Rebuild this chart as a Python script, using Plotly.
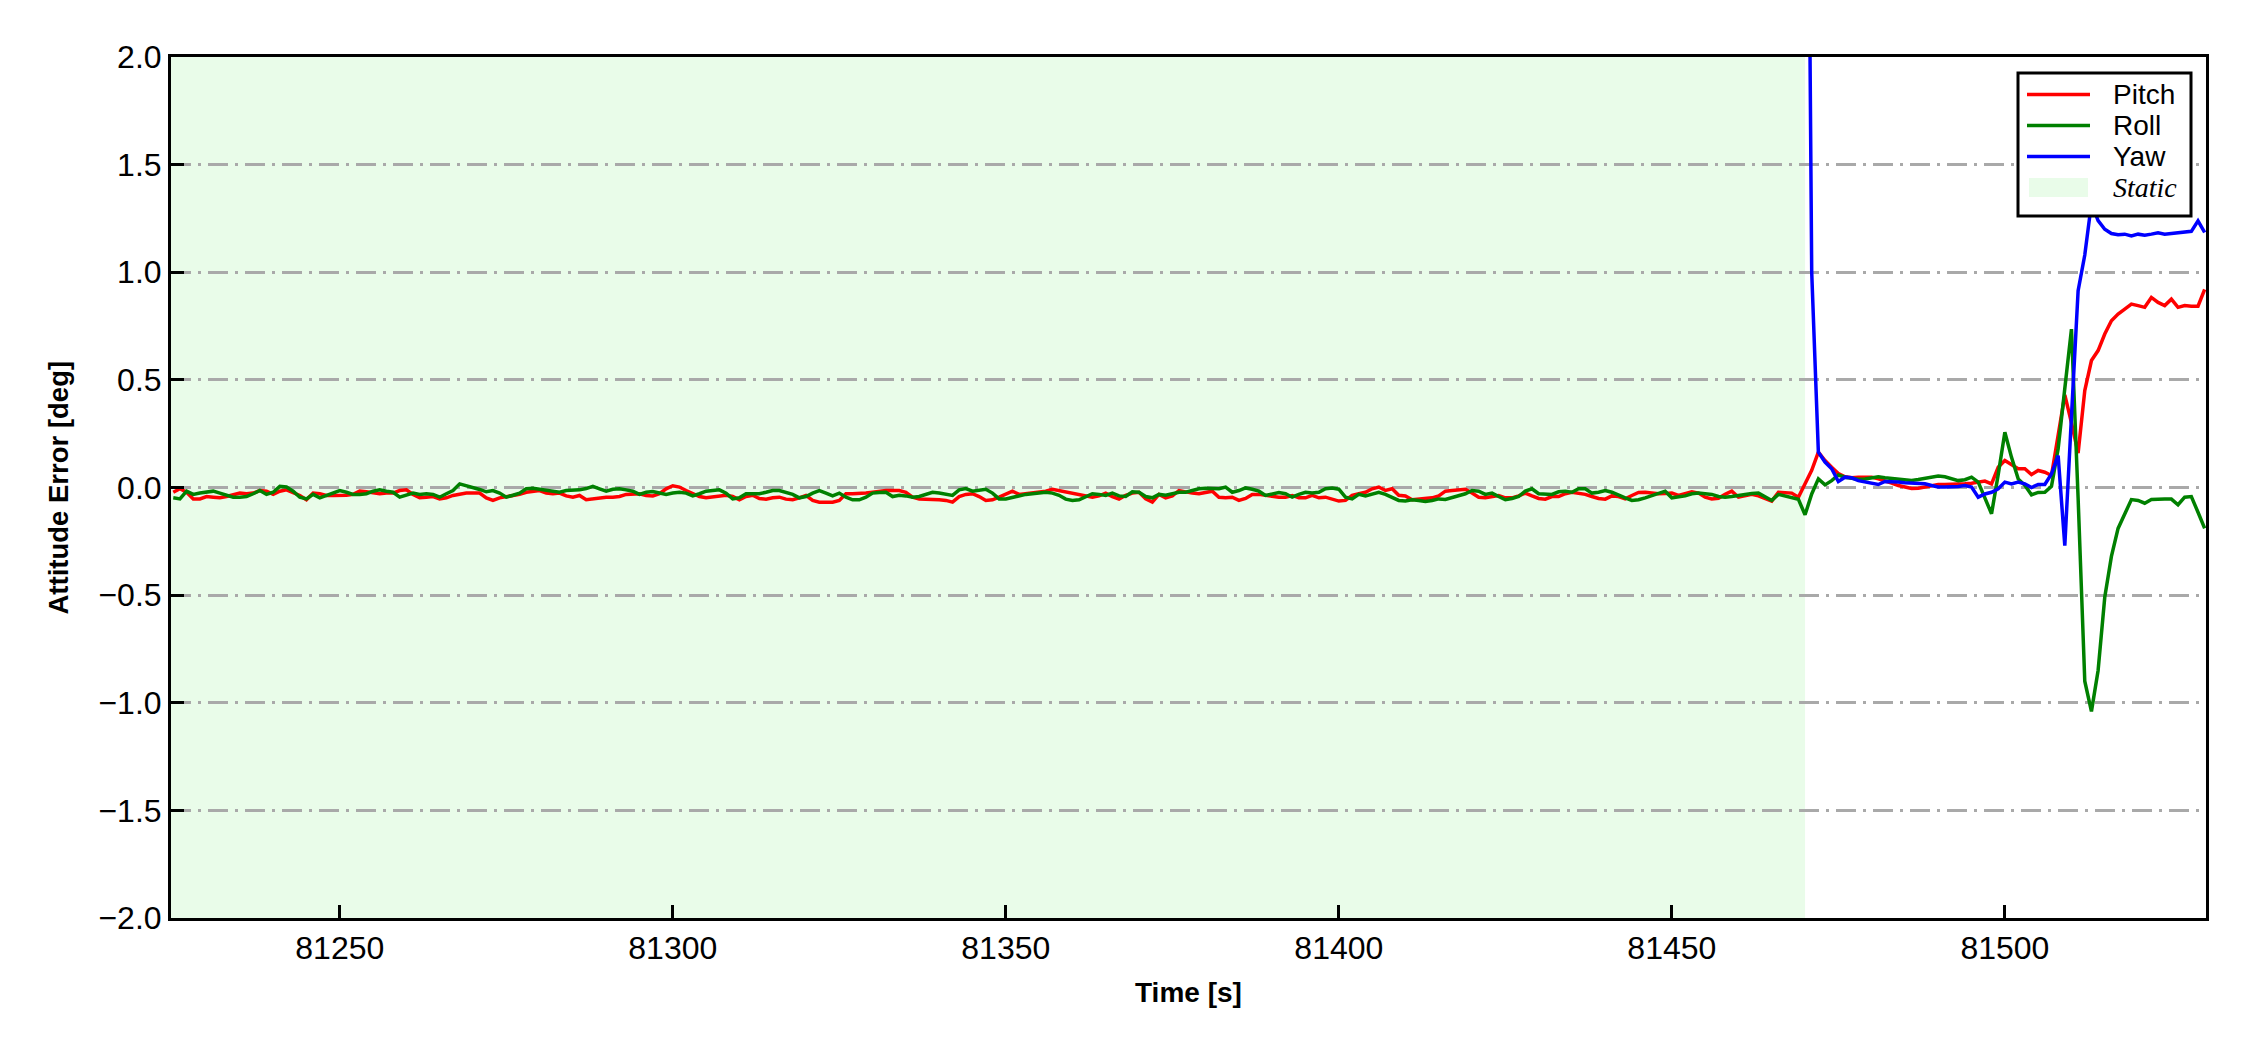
import plotly.graph_objects as go

# ---- data (1 sample per second) ----
t_start = 81225
time = [t_start + i for i in range(306)]

pitch = [
    -0.022, -0.006, -0.022, -0.053, -0.053, -0.042, -0.045, -0.048, -0.042, -0.032,
    -0.026, -0.029, -0.026, -0.014, -0.017, -0.032, -0.017, -0.011, -0.022, -0.037,
    -0.057, -0.026, -0.029, -0.037, -0.037, -0.037, -0.036, -0.032, -0.017, -0.020,
    -0.026, -0.029, -0.026, -0.026, -0.014, -0.011, -0.032, -0.048, -0.045, -0.042,
    -0.053, -0.048, -0.037, -0.032, -0.026, -0.026, -0.026, -0.048, -0.060, -0.048,
    -0.042, -0.039, -0.032, -0.022, -0.017, -0.014, -0.026, -0.029, -0.026, -0.039,
    -0.045, -0.037, -0.057, -0.053, -0.048, -0.045, -0.045, -0.042, -0.032, -0.032,
    -0.029, -0.037, -0.039,
    -0.029, -0.006, 0.008, 0.002, -0.014, -0.026, -0.042, -0.048, -0.045, -0.042,
    -0.036, -0.042, -0.057, -0.042, -0.036, -0.051, -0.054, -0.048, -0.045, -0.054,
    -0.057, -0.048, -0.037, -0.060, -0.068, -0.068, -0.068, -0.060, -0.029, -0.029,
    -0.029, -0.026, -0.022, -0.017, -0.014, -0.014, -0.014, -0.022, -0.045, -0.053,
    -0.053, -0.054, -0.057, -0.060, -0.068, -0.042, -0.032, -0.029, -0.042, -0.060,
    -0.057, -0.045, -0.029, -0.017, -0.032, -0.029, -0.022, -0.020, -0.017, -0.008,
    -0.014, -0.022, -0.026, -0.032, -0.042, -0.045, -0.039, -0.026, -0.042, -0.054,
    -0.036, -0.026,
    -0.022, -0.053, -0.068, -0.032, -0.048, -0.039, -0.014, -0.022, -0.026, -0.029,
    -0.022, -0.017, -0.045, -0.048, -0.045, -0.060, -0.051, -0.032, -0.032, -0.036,
    -0.042, -0.045, -0.045, -0.037, -0.048, -0.048, -0.037, -0.048, -0.045, -0.053,
    -0.063, -0.060, -0.037, -0.029, -0.022, -0.006, 0.002, -0.014, -0.006, -0.036,
    -0.039, -0.057, -0.054, -0.051, -0.048, -0.039, -0.017, -0.014, -0.011, -0.008,
    -0.026, -0.045, -0.048, -0.042, -0.037, -0.048, -0.048, -0.039, -0.026, -0.039,
    -0.051, -0.054, -0.042, -0.042, -0.029, -0.022, -0.026, -0.032, -0.042, -0.051,
    -0.054, -0.039,
    -0.042, -0.053, -0.037, -0.023, -0.022, -0.026, -0.029, -0.028, -0.026, -0.037,
    -0.029, -0.020, -0.026, -0.045, -0.053, -0.050, -0.032, -0.017, -0.045, -0.039,
    -0.032, -0.039, -0.053, -0.063, -0.022,
    -0.026, -0.026, -0.045, 0.020, 0.080, 0.164, 0.125, 0.094, 0.065, 0.050,
    0.045, 0.048, 0.048, 0.048, 0.040, 0.032, 0.020, 0.009, 0.002, -0.005,
    -0.003, 0.002, 0.009, 0.014, 0.014, 0.014, 0.017, 0.017, 0.020, 0.025,
    0.030, 0.017, 0.094, 0.125, 0.107, 0.087, 0.087, 0.060, 0.079, 0.071,
    0.056, 0.250, 0.430, 0.300, 0.160, 0.450, 0.590, 0.636, 0.713, 0.775,
    0.806, 0.829, 0.852, 0.845, 0.837, 0.883, 0.860, 0.845, 0.875, 0.837,
    0.845, 0.842, 0.842, 0.920,
]

roll = [
    -0.048, -0.053, -0.017, -0.032, -0.026, -0.020, -0.017, -0.026, -0.036, -0.045,
    -0.045, -0.042, -0.029, -0.014, -0.032, -0.022, 0.005, 0.002, -0.017, -0.045,
    -0.053, -0.032, -0.048, -0.037, -0.022, -0.014, -0.022, -0.032, -0.032, -0.029,
    -0.017, -0.011, -0.017, -0.022, -0.045, -0.037, -0.026, -0.032, -0.029, -0.032,
    -0.045, -0.029, -0.014, 0.017, 0.009, 0.002, -0.009, -0.020, -0.014, -0.026,
    -0.045, -0.036, -0.026, -0.006, -0.003, -0.008, -0.014, -0.020, -0.022, -0.014,
    -0.014, -0.011, -0.005, 0.005, -0.006, -0.017, -0.008, -0.006, -0.011, -0.017,
    -0.032, -0.022, -0.019,
    -0.026, -0.032, -0.026, -0.022, -0.026, -0.039, -0.029, -0.017, -0.014, -0.011,
    -0.026, -0.053, -0.048, -0.029, -0.029, -0.029, -0.022, -0.014, -0.014, -0.022,
    -0.032, -0.048, -0.042, -0.026, -0.014, -0.026, -0.039, -0.026, -0.045, -0.057,
    -0.057, -0.045, -0.026, -0.023, -0.022, -0.042, -0.036, -0.039, -0.045, -0.042,
    -0.032, -0.022, -0.026, -0.032, -0.037, -0.011, -0.005, -0.017, -0.014, -0.008,
    -0.026, -0.053, -0.053, -0.045, -0.039, -0.032, -0.029, -0.026, -0.022, -0.026,
    -0.036, -0.054, -0.060, -0.057, -0.042, -0.029, -0.032, -0.037, -0.026, -0.039,
    -0.042, -0.020,
    -0.022, -0.042, -0.048, -0.032, -0.036, -0.029, -0.022, -0.022, -0.014, -0.006,
    -0.003, -0.005, -0.006, 0.002, -0.022, -0.014, -0.002, -0.008, -0.017, -0.037,
    -0.032, -0.023, -0.029, -0.045, -0.032, -0.022, -0.026, -0.022, -0.006, -0.002,
    -0.008, -0.045, -0.053, -0.032, -0.039, -0.032, -0.022, -0.032, -0.045, -0.060,
    -0.063, -0.057, -0.060, -0.065, -0.060, -0.053, -0.056, -0.048, -0.037, -0.029,
    -0.014, -0.017, -0.032, -0.026, -0.042, -0.057, -0.051, -0.042, -0.017, -0.006,
    -0.029, -0.032, -0.032, -0.020, -0.017, -0.022, -0.006, -0.006, -0.026, -0.022,
    -0.014, -0.022,
    -0.037, -0.048, -0.060, -0.057, -0.048, -0.037, -0.026, -0.017, -0.048, -0.045,
    -0.039, -0.029, -0.026, -0.029, -0.032, -0.042, -0.045, -0.042, -0.037, -0.029,
    -0.028, -0.026, -0.042, -0.060, -0.032,
    -0.040, -0.050, -0.055, -0.127, -0.030, 0.040, 0.012, 0.032, 0.058, 0.048,
    0.045, 0.038, 0.040, 0.045, 0.050, 0.045, 0.042, 0.039, 0.037, 0.033,
    0.037, 0.043, 0.048, 0.053, 0.050, 0.040, 0.032, 0.036, 0.048, 0.025,
    -0.045, -0.122, 0.060, 0.257, 0.140, 0.040, 0.010, -0.034, -0.023, -0.022,
    0.005, 0.180, 0.460, 0.736, -0.050, -0.900, -1.040, -0.850, -0.510, -0.320,
    -0.190, -0.120, -0.056, -0.060, -0.073, -0.056, -0.053, -0.054, -0.054, -0.080,
    -0.045, -0.042, -0.115, -0.190,
]

# yaw only comes into range once the static phase ends
yaw_start = 81470
yaw = [
    5.0, 1.0, 0.164, 0.118, 0.087, 0.028, 0.048, 0.045, 0.032, 0.025,
    0.020, 0.014, 0.028, 0.028, 0.025, 0.022, 0.020, 0.020, 0.017, 0.009,
    0.002, 0.002, 0.002, 0.005, 0.009, 0.002, -0.045, -0.030, -0.022, -0.006,
    0.025, 0.017, 0.025, 0.017, 0.000, 0.014, 0.014, 0.063, 0.148, -0.270,
    0.330, 0.914, 1.080, 1.320, 1.240, 1.200, 1.180, 1.174, 1.177, 1.169,
    1.177, 1.172, 1.177, 1.183, 1.177, 1.180, 1.182, 1.183, 1.190, 1.239,
    1.185,
]
yaw_time = [t for t in time if t >= yaw_start]

static_end = 81470
x_range = [81224.66, 81530.2]
x_tick_vals = [81250, 81300, 81350, 81400, 81450, 81500]
x_tick_text = ["81250", "81300", "81350", "81400", "81450", "81500"]
y_tick_vals = [-2.0, -1.5, -1.0, -0.5, 0.0, 0.5, 1.0, 1.5, 2.0]
y_tick_text = ["\u22122.0", "\u22121.5", "\u22121.0", "\u22120.5", "0.0", "0.5", "1.0", "1.5", "2.0"]

series = [("Pitch", "#ff0000"), ("Roll", "#008000"), ("Yaw", "#0000ff")]
static_fill = "rgba(144,238,144,0.2)"

# ---- geometry ----
# the page body has an 8px margin, so the figure is a bit smaller than the window
OFF = 8
W, H = 2250 - OFF, 1050 - OFF
# plot area in window pixels
P_L, P_R, P_T, P_B = 171, 2206, 57, 918
ML, MT = P_L - OFF, P_T - OFF
MR, MB = W - (P_R - OFF), H - (P_B - OFF)
PW, PH = P_R - P_L, P_B - P_T


def px(x):
    return (x - P_L) / PW


def py(y):
    return (P_B - y) / PH


SANS = "Liberation Sans, Arial, sans-serif"
LW = 3.5

fig = go.Figure()
fig.add_trace(go.Scatter(x=time, y=pitch, mode="lines", name="Pitch",
                         line=dict(color=series[0][1], width=LW)))
fig.add_trace(go.Scatter(x=time, y=roll, mode="lines", name="Roll",
                         line=dict(color=series[1][1], width=LW)))
fig.add_trace(go.Scatter(x=yaw_time, y=yaw, mode="lines", name="Yaw",
                         line=dict(color=series[2][1], width=LW)))

# static phase shading
fig.add_vrect(x0=x_range[0], x1=static_end, fillcolor=static_fill,
              line_width=0, layer="below")

# hand-drawn legend (matplotlib style box)
fig.add_shape(type="rect", xref="paper", yref="paper",
              x0=px(2018), x1=px(2191), y0=py(216), y1=py(73),
              fillcolor="white", line=dict(color="black", width=3), layer="above")
rows = [94.5, 125.5, 156.5, 187.5]
for (name, color), ry in zip(series, rows):
    fig.add_shape(type="line", xref="paper", yref="paper",
                  x0=px(2027), x1=px(2090), y0=py(ry), y1=py(ry),
                  line=dict(color=color, width=LW), layer="above")
    fig.add_annotation(text=name, xref="paper", yref="paper", x=px(2111), y=py(ry),
                       xanchor="left", yanchor="middle", showarrow=False,
                       font=dict(family=SANS, size=28, color="black"))
fig.add_shape(type="rect", xref="paper", yref="paper",
              x0=px(2029), x1=px(2088), y0=py(rows[3] + 9.5), y1=py(rows[3] - 9.5),
              fillcolor=static_fill, line_width=0, layer="above")
fig.add_annotation(text="<i>Static</i>", xref="paper", yref="paper", x=px(2111), y=py(rows[3]),
                   xanchor="left", yanchor="middle", showarrow=False,
                   font=dict(family="Liberation Serif, Times New Roman, serif", size=28, color="black"))

# axis titles
fig.add_annotation(text="<b>Time [s]</b>", xref="paper", yref="paper",
                   x=0.5, y=py(992), xanchor="center", yanchor="middle", showarrow=False,
                   font=dict(family=SANS, size=28, color="black"))
fig.add_annotation(text="<b>Attitude Error [deg]</b>", xref="paper", yref="paper",
                   x=px(58), y=0.5, xanchor="center", yanchor="middle", textangle=-90,
                   showarrow=False, font=dict(family=SANS, size=27.5, color="black"))

axis_common = dict(showline=True, linecolor="black", linewidth=3, mirror=True,
                   ticks="inside", ticklen=13, tickwidth=2.5, tickcolor="black",
                   tickfont=dict(family=SANS, size=32, color="black"), zeroline=False)

fig.update_xaxes(range=x_range, tickvals=x_tick_vals, ticktext=x_tick_text,
                 showgrid=False, **axis_common)
fig.update_yaxes(range=[-2, 2], tickvals=y_tick_vals, ticktext=y_tick_text,
                 showgrid=True, gridcolor="#a9a9a9", gridwidth=2.5,
                 griddash="20px,7px,3px,7px", **axis_common)

fig.update_layout(
    width=W, height=H,
    margin=dict(l=ML, r=MR, t=MT, b=MB),
    plot_bgcolor="white", paper_bgcolor="white",
    showlegend=False,
    font=dict(family=SANS, color="black"),
)

fig.write_html("out.html")
